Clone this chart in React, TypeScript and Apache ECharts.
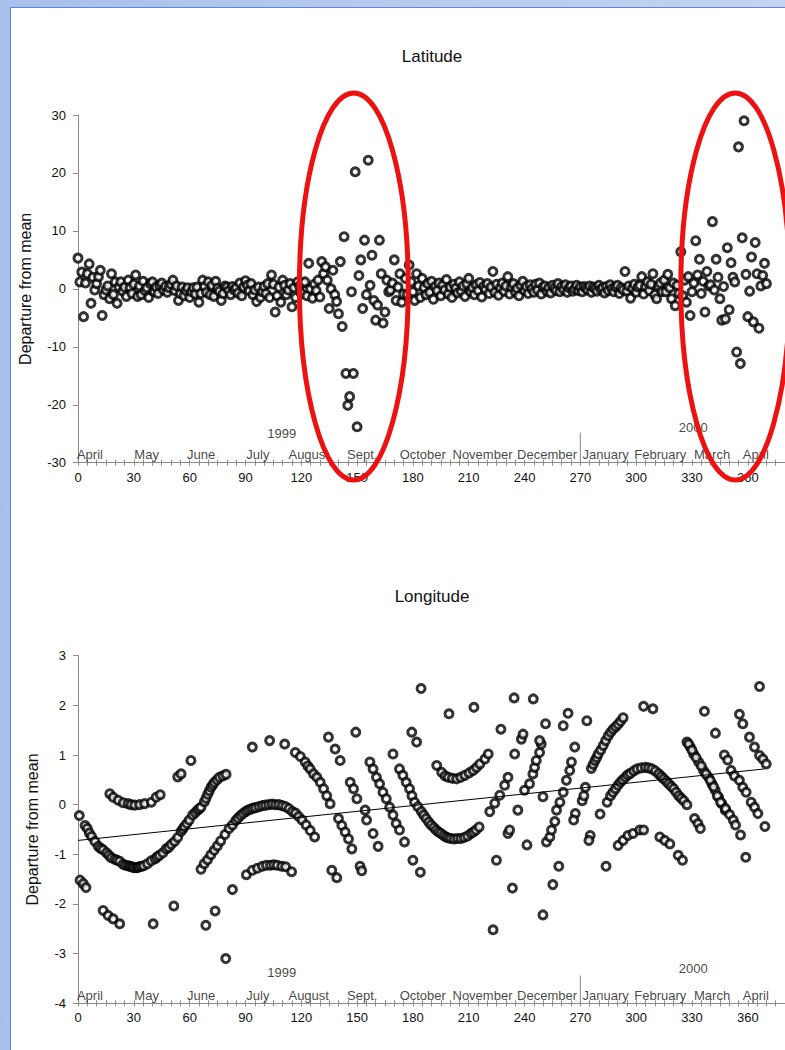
import React, { useEffect, useRef } from "react";
import * as echarts from "echarts";

const FONT = "'Liberation Sans', Arial, sans-serif";

// Latitude departure from mean, one value per day (day 0 .. 370)
const latitudeValues = [
  5.3, 1.2, 2.9, -4.8, 1.0, 2.6, 4.3, -2.5, 2.0, -0.2,
  0.9, 2.1, 3.2, -4.6, -1.0, -0.2, 0.5, -1.7, 2.6, -1.0,
  1.2, -2.5, 0.3, 1.2, -0.4, 0.3, -1.3, 1.5, 0.2, -0.8,
  0.8, 2.4, -1.3, 0.5, -1.0, 1.3, -0.3, 0.2, -1.5, 0.9,
  1.2, -0.5, 0.3, -0.8, 0.6, 1.0, -0.2, 0.4, -0.6, 0.2,
  0.8, 1.5, -0.3, 0.5, -2.0, -0.8, 0.3, -1.2, -0.3, 0.2,
  -1.5, -0.5, 0.2, -0.9, 0.3, -2.3, -0.8, 1.5, 0.4, -0.6,
  1.2, -1.0, 0.6, -1.3, 1.3, 0.1, -0.4, -2.0, -0.8, 0.5,
  0.3, -0.3, -1.0, 0.4, -0.2, 0.2, -0.7, 1.0, -1.2, 0.3,
  1.4, 0.6, -0.3, 0.9, -1.0, -0.2, -2.2, 0.3, -1.5, -0.5,
  0.4, -0.8, 0.9, -1.5, 2.4, 0.8, -4.0, -1.2, 0.3, -2.3,
  1.5, 0.6, -1.0, -0.2, 0.9, -3.1, 0.2, -1.5, 1.2, 0.5,
  -0.8, 1.0, 1.2, -1.2, 4.4, 0.0, -1.6, 0.8, -0.3, 1.5,
  -1.4, 4.7, 2.6, 3.8, 1.5, -3.4, 0.0, 3.2, -1.0, -2.2,
  -4.3, 4.7, -6.5, 9.0, -14.6, -20.1, -18.6, -0.5, -14.6, 20.2,
  -23.8, 2.3, 5.0, -3.4, 8.4, -1.0, 22.2, 0.6, 5.8, -2.0,
  -5.4, -2.8, 8.4, 2.6, -5.9, -4.0, 1.5, -0.5, -0.2, 1.0,
  5.0, -2.0, 0.3, 2.6, -2.3, -0.9, 1.8, -1.0, 4.1, 1.2,
  -0.5, -2.0, 2.6, 0.5, -1.5, 1.8, 0.2, -1.0, 0.9, -0.6,
  1.3, -1.8, 0.4, -0.3, 1.0, -1.2, 0.6, -0.2, 1.6, -0.9,
  0.3, -1.5, 0.8, 0.1, -0.7, 1.2, -0.4, 0.5, -1.3, 0.9,
  1.8, -0.5, 0.2, -1.0, 0.7, -0.3, 1.1, -1.4, 0.4, -0.1,
  0.9, -0.8, 0.3, 3.0, -0.6, 0.8, -1.1, 0.2, 1.0, -0.4,
  0.5, 2.1, -0.9, 0.3, 0.9, -0.5, 0.1, -1.2, 0.6, 1.3,
  -0.3, 0.4, -0.8, 0.7, 0.0, -0.6, 0.8, -0.2, 1.0, -0.9,
  0.3, 0.5, -0.4, 0.2, -0.7, 0.6, 0.1, -0.3, 0.9, -0.5,
  0.4, -0.1, 0.7, -0.6, 0.2, 0.5, -0.4, 0.0, 0.6, -0.3,
  0.3, -0.5, 0.4, 0.1, -0.2, 0.5, -0.6, 0.3, 0.0, -0.4,
  0.6, -0.1, 0.2, -0.7, 0.4, -0.3, 0.7, 0.0, -0.5, 0.3,
  0.6, -0.8, 0.2, -0.2, 3.0, -0.4, 0.5, -1.6, 0.1, 0.8,
  -0.6, 0.3, 0.6, 2.1, -0.9, 0.4, 1.2, -0.3, 0.8, 2.6,
  -1.0, -1.7, 0.5, 1.0, -0.5, 1.5, -0.5, 2.5, 0.2, -1.7,
  1.0, -2.9, 0.6, -0.8, 6.4, -1.2, 1.5, -2.3, 2.1, -4.6,
  -0.5, 1.0, 8.3, 2.4, 5.1, -0.8, 1.3, -4.0, 3.0, 0.5,
  0.7, 11.6, -0.2, 5.1, 2.0, -1.7, -5.4, 0.4, -5.2, 7.1,
  -3.6, 4.5, 2.0, 1.2, -10.9, 24.5, -12.9, 8.8, 29.0, 2.5,
  -4.8, -0.4, 5.5, -5.7, 8.0, 2.6, -6.8, 0.5, 2.3, 4.4,
  0.9,
];

// Longitude departure from mean: [day, value]
const longitudePoints = [
  [0.7, -0.22], [1.1, -1.52], [2.8, -1.59], [4.3, -1.67],
  [3.8, -0.42], [5.0, -0.48], [6.1, -0.57], [7.3, -0.64], [9.1, -0.74], [10.9, -0.84],
  [12.2, -0.88], [13.5, -0.91], [15.3, -0.97], [16.6, -1.02], [17.9, -1.07], [19.7, -1.10],
  [21.0, -1.12], [22.4, -1.14], [24.2, -1.20], [25.5, -1.22], [26.9, -1.23], [27.8, -1.24],
  [28.7, -1.25], [29.5, -1.26], [30.4, -1.27], [31.6, -1.27], [32.3, -1.26], [33.1, -1.25],
  [34.2, -1.24], [35.3, -1.23], [37.3, -1.19], [39.4, -1.13], [41.5, -1.09], [42.6, -1.05],
  [43.8, -1.02], [45.6, -0.97], [47.4, -0.89], [48.8, -0.86], [50.1, -0.80], [51.9, -0.74],
  [53.6, -0.66], [55.4, -0.54], [56.3, -0.49], [57.2, -0.44], [58.5, -0.38], [59.8, -0.31],
  [61.6, -0.21], [63.0, -0.16], [64.3, -0.11], [65.2, -0.08], [66.1, -0.05], [67.9, 0.06],
  [68.8, 0.13], [69.7, 0.21], [70.6, 0.28], [71.5, 0.35], [72.4, 0.40], [73.3, 0.45],
  [74.7, 0.50], [76.0, 0.55], [77.9, 0.58], [79.6, 0.61],
  [17.1, 0.22], [18.9, 0.15], [21.6, 0.09], [24.3, 0.04], [26.9, 0.02], [28.5, 0.0],
  [30.5, -0.01], [33.1, 0.0], [35.8, 0.02], [39.4, 0.05], [42.0, 0.15], [44.2, 0.20],
  [13.5, -2.13], [16.2, -2.23], [18.9, -2.30], [22.4, -2.40], [40.4, -2.40], [51.5, -2.04],
  [53.6, 0.56], [55.4, 0.62], [60.7, 0.89],
  [66.1, -1.30], [67.8, -1.19], [69.6, -1.11], [71.4, -1.01], [73.2, -0.92], [74.9, -0.83],
  [76.7, -0.73], [79.0, -0.60], [81.2, -0.48], [83.0, -0.41], [84.8, -0.32], [86.0, -0.27],
  [87.4, -0.22], [88.7, -0.18], [90.1, -0.14], [91.4, -0.11], [92.8, -0.09], [94.1, -0.07],
  [95.5, -0.06], [97.3, -0.04], [99.1, -0.02], [100.8, -0.01], [102.6, 0.0], [104.4, 0.01],
  [106.2, 0.0], [108.0, 0.0], [109.8, -0.02], [111.6, -0.04], [113.4, -0.08], [115.2, -0.14],
  [116.9, -0.17], [118.6, -0.24], [120.4, -0.31], [122.6, -0.41], [124.8, -0.52], [127.2, -0.65],
  [68.7, -2.43], [73.7, -2.14], [79.4, -3.10], [83.0, -1.71], [90.5, -1.41], [93.7, -1.32],
  [96.4, -1.28], [99.1, -1.24], [101.3, -1.22], [103.5, -1.22], [105.3, -1.21], [107.1, -1.22],
  [109.5, -1.24], [111.6, -1.25], [114.8, -1.35],
  [93.7, 1.16], [103.0, 1.29], [111.1, 1.22], [116.8, 1.05],
  [119.5, 0.97], [122.1, 0.86], [123.5, 0.78], [124.8, 0.72], [126.6, 0.62], [128.4, 0.55],
  [130.2, 0.45], [132.0, 0.32], [133.7, 0.18], [135.5, 0.02],
  [134.6, 1.36], [138.2, 1.12], [140.9, 0.89],
  [140.0, -0.28], [141.8, -0.42], [143.6, -0.55], [145.4, -0.69], [147.2, -0.89],
  [136.4, -1.32], [139.1, -1.47],
  [146.3, 0.45], [148.1, 0.32], [149.9, 0.12], [149.3, 1.46],
  [151.6, -1.24], [152.5, -1.33],
  [154.3, -0.11], [155.1, -0.31], [158.6, -0.58], [161.3, -0.84],
  [156.9, 0.86], [158.6, 0.72], [160.4, 0.55], [162.1, 0.42], [163.9, 0.25], [165.7, 0.12],
  [167.5, -0.05], [169.3, -0.21], [171.0, -0.38], [172.8, -0.51], [175.5, -0.75],
  [169.3, 1.02],
  [172.8, 0.72], [174.6, 0.59], [176.4, 0.45], [178.2, 0.32], [179.5, 0.18], [180.9, 0.05],
  [182.7, -0.04], [184.5, -0.14], [185.8, -0.21], [187.1, -0.28], [188.5, -0.35], [189.8, -0.41],
  [191.2, -0.46], [192.5, -0.51], [193.8, -0.55], [195.1, -0.58], [196.5, -0.62], [197.8, -0.65],
  [199.1, -0.67], [200.5, -0.68], [202.2, -0.69], [204.0, -0.68], [205.8, -0.68], [207.6, -0.66],
  [209.4, -0.63], [211.2, -0.58], [212.5, -0.55], [213.9, -0.51], [215.6, -0.45],
  [179.4, 1.46], [182.0, 1.26], [180.0, -1.12], [184.0, -1.36], [184.4, 2.34],
  [192.8, 0.79], [195.5, 0.65], [197.3, 0.58], [199.0, 0.55], [201.2, 0.53], [203.5, 0.52],
  [205.7, 0.55], [207.9, 0.59], [210.2, 0.64], [212.4, 0.69], [214.2, 0.75], [216.0, 0.82],
  [218.7, 0.92], [220.5, 1.02],
  [199.4, 1.83], [212.8, 1.96],
  [221.3, -0.14], [224.0, 0.03], [226.7, 0.19], [229.3, 0.39], [231.1, 0.55],
  [223.1, -2.52], [224.9, -1.12], [233.5, -1.68],
  [227.3, 1.52], [234.4, 2.15], [244.7, 2.13],
  [231.1, -0.58], [232.0, -0.51], [236.4, -0.11], [240.0, 0.29], [234.7, 1.02], [238.3, 1.32], [239.2, 1.42],
  [241.3, -0.81], [249.9, 0.16], [251.3, 1.63], [249.9, -2.22], [255.2, -1.61], [258.4, -1.24],
  [242.7, 0.42], [244.5, 0.62], [245.4, 0.75], [246.3, 0.89], [248.1, 1.05], [249.0, 1.22], [248.1, 1.29],
  [251.8, -0.75], [253.6, -0.65], [254.5, -0.51], [256.3, -0.34], [257.2, -0.11], [259.0, 0.05],
  [260.8, 0.25], [262.5, 0.49], [264.3, 0.69], [265.2, 0.86], [267.0, 1.16],
  [260.8, 1.59], [263.4, 1.84],
  [273.5, 1.69], [267.3, -0.18], [266.4, -0.31],
  [271.0, 0.08], [271.9, 0.18], [272.7, 0.35],
  [275.3, -0.62], [274.6, -0.72], [280.6, -0.19], [283.8, -1.24],
  [275.9, 0.73], [276.9, 0.81], [277.9, 0.89], [278.8, 0.95], [279.6, 1.02], [281.0, 1.10],
  [282.3, 1.19], [283.6, 1.29], [285.0, 1.39], [286.3, 1.46], [287.6, 1.52], [289.0, 1.57],
  [290.3, 1.62], [291.6, 1.68], [293.0, 1.75],
  [284.4, 0.05], [286.2, 0.18], [287.5, 0.25], [288.9, 0.32], [290.2, 0.39], [291.5, 0.45],
  [292.8, 0.50], [294.2, 0.55], [295.5, 0.60], [296.9, 0.63], [298.7, 0.68], [300.5, 0.72],
  [302.7, 0.74], [304.9, 0.75], [306.7, 0.74], [308.5, 0.72], [310.3, 0.68], [312.1, 0.62],
  [313.5, 0.57], [314.8, 0.52], [316.2, 0.47], [317.5, 0.42], [318.8, 0.37], [320.2, 0.32],
  [321.5, 0.25], [322.9, 0.18], [324.2, 0.13], [325.6, 0.08], [327.3, 0.0],
  [290.3, -0.82], [293.0, -0.72], [295.6, -0.62], [298.3, -0.58], [301.9, -0.51], [304.0, -0.51],
  [304.0, 1.98], [309.0, 1.93],
  [312.7, -0.65], [315.4, -0.72], [318.1, -0.79], [322.6, -1.02], [324.9, -1.12],
  [331.4, -0.28], [333.2, -0.38], [334.5, -0.48],
  [336.7, 1.88], [342.6, 1.44],
  [327.3, 1.26], [329.1, 1.16], [330.9, 1.02], [333.6, 0.86], [336.2, 0.69], [338.9, 0.55],
  [340.7, 0.42], [342.5, 0.29], [344.3, 0.15], [346.1, 0.02], [347.9, -0.11],
  [328.2, 1.22], [330.0, 1.10], [332.2, 0.95], [335.0, 0.78], [337.5, 0.62], [339.8, 0.49],
  [341.6, 0.36], [343.6, 0.18], [345.4, 0.05], [348.1, -0.08], [350.2, -0.20], [352.2, -0.31],
  [353.4, -0.41], [356.1, -0.61],
  [347.4, 1.0], [349.2, 0.90], [351.0, 0.69], [352.8, 0.58],
  [355.5, 1.82], [357.3, 1.63],
  [355.5, 0.49], [357.3, 0.35], [359.1, 0.25], [361.8, 0.05], [363.6, -0.05], [365.4, -0.18],
  [360.9, 1.36], [363.6, 1.16], [366.3, 0.99], [368.1, 0.92], [369.9, 0.82],
  [358.9, -1.06], [369.2, -0.44], [366.3, 2.38],
];

// Linear trend of longitude
const trendDays = [0, 369];
const trendValues = [-0.72, 0.72];

// Month names written along the day axis, and the day they sit over
const monthNames = ["April", "May", "June", "July", "August", "Sept.", "October", "November", "December", "January", "February", "March", "April"];
const monthDays = [6.4, 36.9, 66.2, 96.7, 124.0, 152.8, 185.3, 217.4, 252.1, 283.6, 313.0, 340.8, 364.3];

const yearNames = ["1999", "2000"];
const yearDays = [109.5, 330.7];
const latYearValues = [-24.9, -23.9];
const lonYearValues = [-3.38, -3.3];

const yearDividerDay = 270;
const latDividerTop = -24.8;
const lonDividerTop = -3.44;

const dayAxis = { min: 0, max: 380, interval: 30 };
const latAxis = { min: -30, max: 30, interval: 10 };
const lonAxis = { min: -4, max: 3, interval: 1 };

// Highlighted periods on the latitude chart (red ellipses), in days / degrees
const highlightDays = [[119, 177.5], [324, 382.5]];
const highlightValues = [-33, 33.8];

const AXIS_COLOR = "#8a8a8a";
const TEXT_COLOR = "#111";

function xAxes(gridIndex: number) {
  const common = {
    type: "value",
    gridIndex,
    min: dayAxis.min,
    max: dayAxis.max,
    interval: dayAxis.interval,
    position: "bottom",
    splitLine: { show: false },
    minorSplitLine: { show: false },
  };
  return [
    {
      ...common,
      axisLine: { show: true, onZero: false, lineStyle: { color: AXIS_COLOR, width: 1 } },
      axisTick: { show: true, length: 3, lineStyle: { color: AXIS_COLOR } },
      minorTick: { show: true, splitNumber: 6, length: 3, lineStyle: { color: AXIS_COLOR } },
      axisLabel: { fontSize: 13, color: TEXT_COLOR, margin: 8, fontFamily: FONT, showMaxLabel: false },
    },
    {
      ...common,
      axisLine: { show: false, onZero: false },
      axisTick: { show: true, inside: true, length: 3, lineStyle: { color: AXIS_COLOR } },
      minorTick: { show: true, splitNumber: 6, length: 3, lineStyle: { color: AXIS_COLOR } },
      axisLabel: { show: false },
    },
  ];
}

function yAxis(gridIndex: number, range: { min: number; max: number; interval: number }, nameGap: number) {
  return {
    type: "value",
    gridIndex,
    min: range.min,
    max: range.max,
    interval: range.interval,
    axisLine: { show: true, onZero: false, lineStyle: { color: AXIS_COLOR, width: 1 } },
    axisTick: { show: true, length: 5, lineStyle: { color: AXIS_COLOR } },
    axisLabel: { fontSize: 13, color: TEXT_COLOR, margin: 12, fontFamily: FONT },
    splitLine: { show: false },
    name: "Departure from mean",
    nameLocation: "middle",
    nameGap,
    nameTextStyle: { fontSize: 16, color: TEXT_COLOR, fontFamily: FONT },
  };
}

const markerStyle = { color: "#ffffff", borderColor: "#000000", borderWidth: 3 };

function textSeries(xAxisIndex: number, yAxisIndex: number, data: any[], position: string) {
  return {
    type: "scatter",
    xAxisIndex,
    yAxisIndex,
    symbolSize: 1,
    itemStyle: { color: "rgba(0,0,0,0)" },
    silent: true,
    z: 4,
    label: {
      show: true,
      position,
      distance: 1,
      formatter: "{b}",
      fontSize: 13,
      color: TEXT_COLOR,
      fontFamily: FONT,
    },
    data,
  };
}

export default function App() {
  const ref = useRef<HTMLDivElement>(null);

  useEffect(() => {
    if (!ref.current) return;
    const chart = echarts.init(ref.current, undefined, { renderer: "svg" });

    const latData = latitudeValues.map((v, i) => [i, v]);
    const monthsTop = monthDays.map((d, i) => ({ name: monthNames[i], value: [d, latAxis.min] }));
    const monthsBottom = monthDays.map((d, i) => ({ name: monthNames[i], value: [d, lonAxis.min] }));
    const yearsTop = yearDays.map((d, i) => ({ name: yearNames[i], value: [d, latYearValues[i]] }));
    const yearsBottom = yearDays.map((d, i) => ({ name: yearNames[i], value: [d, lonYearValues[i]] }));

    chart.setOption({
      animation: false,
      backgroundColor: "transparent",
      grid: [
        { left: 78, top: 115, width: 711.4, height: 347.7 },
        { left: 78, top: 655.7, width: 711.4, height: 347.6 },
      ],
      xAxis: [...xAxes(0), ...xAxes(1)],
      yAxis: [yAxis(0, latAxis, 45), yAxis(1, lonAxis, 38)],
      series: [
        {
          type: "line",
          xAxisIndex: 0,
          yAxisIndex: 0,
          data: [[yearDividerDay, latAxis.min], [yearDividerDay, latDividerTop]],
          symbol: "none",
          lineStyle: { color: AXIS_COLOR, width: 1 },
          silent: true,
          z: 1,
        },
        {
          type: "line",
          xAxisIndex: 2,
          yAxisIndex: 1,
          data: [[yearDividerDay, lonAxis.min], [yearDividerDay, lonDividerTop]],
          symbol: "none",
          lineStyle: { color: AXIS_COLOR, width: 1 },
          silent: true,
          z: 1,
        },
        {
          type: "scatter",
          xAxisIndex: 0,
          yAxisIndex: 0,
          symbol: "circle",
          symbolSize: 8,
          itemStyle: markerStyle,
          data: latData,
          z: 2,
        },
        {
          type: "scatter",
          xAxisIndex: 2,
          yAxisIndex: 1,
          symbol: "circle",
          symbolSize: 8,
          itemStyle: markerStyle,
          data: longitudePoints,
          z: 2,
        },
        {
          type: "line",
          xAxisIndex: 2,
          yAxisIndex: 1,
          data: trendDays.map((d, i) => [d, trendValues[i]]),
          symbol: "none",
          lineStyle: { color: "#000", width: 1 },
          silent: true,
          z: 3,
        },
        textSeries(0, 0, monthsTop, "top"),
        textSeries(2, 1, monthsBottom, "top"),
        textSeries(0, 0, yearsTop, "inside"),
        textSeries(2, 1, yearsBottom, "inside"),
      ],
    });

    const ellipses = highlightDays.map(([d0, d1]) => {
      const a = chart.convertToPixel({ gridIndex: 0 } as any, [d0, highlightValues[1]]) as number[];
      const b = chart.convertToPixel({ gridIndex: 0 } as any, [d1, highlightValues[0]]) as number[];
      return {
        type: "ellipse",
        shape: { cx: (a[0] + b[0]) / 2, cy: (a[1] + b[1]) / 2, rx: Math.abs(b[0] - a[0]) / 2, ry: Math.abs(b[1] - a[1]) / 2 },
        style: { fill: "none", stroke: "#ee1111", lineWidth: 5 },
        silent: true,
        z: 100,
      };
    });

    chart.setOption({
      graphic: [
        {
          type: "text",
          x: 432,
          y: 56,
          style: { text: "Latitude", align: "center", verticalAlign: "middle", fontSize: 17, fontFamily: FONT, fill: TEXT_COLOR },
          silent: true,
        },
        {
          type: "text",
          x: 432,
          y: 596,
          style: { text: "Longitude", align: "center", verticalAlign: "middle", fontSize: 17, fontFamily: FONT, fill: TEXT_COLOR },
          silent: true,
        },
        ...ellipses,
      ],
    });

    return () => chart.dispose();
  }, []);

  return (
    <div style={{ position: "fixed", left: 0, top: 0, width: 785, height: 1050, overflow: "hidden", background: "linear-gradient(90deg, #a9c0ea, #c3d4f2)" }}>
      <div style={{ position: "absolute", left: 10, top: 7, width: 800, height: 1100, background: "#ffffff", borderLeft: "1.5px solid #5f86d6", borderTop: "1.5px solid #5f86d6" }} />
      <div ref={ref} style={{ position: "absolute", left: 0, top: 0, width: 785, height: 1050 }} />
    </div>
  );
}
